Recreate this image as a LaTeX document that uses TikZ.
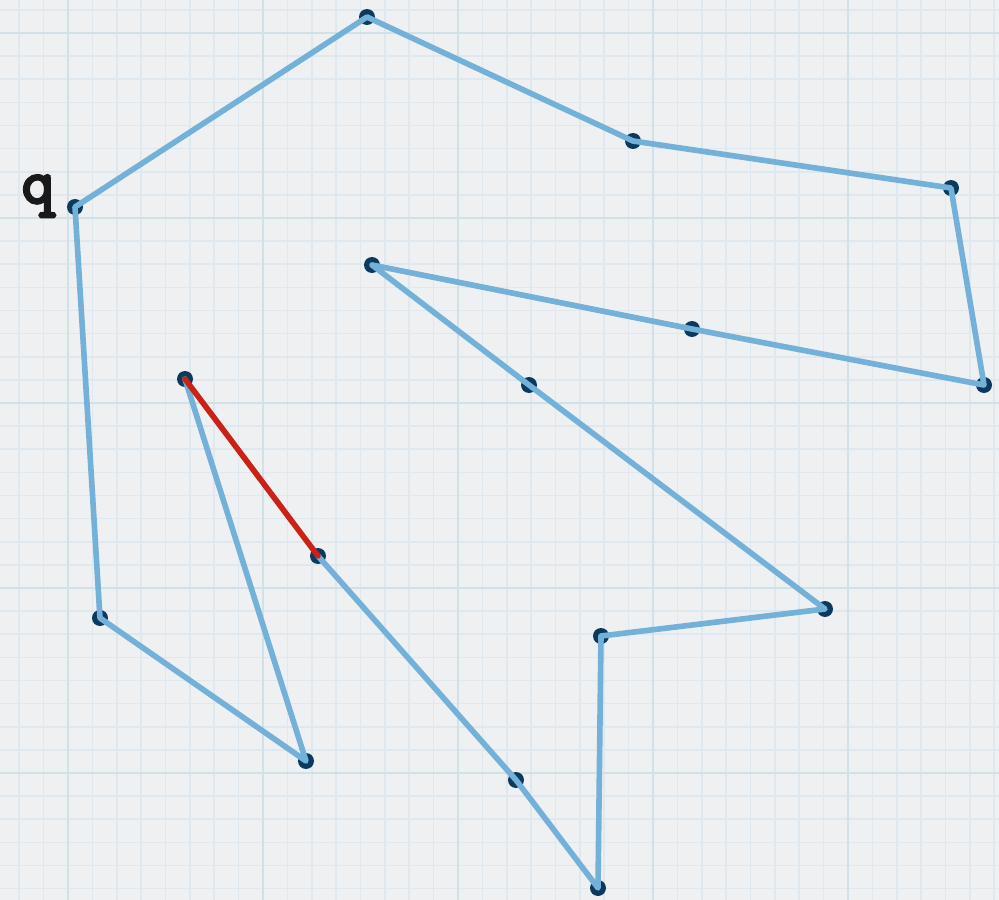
\documentclass[tikz,border=0pt]{standalone}
\usepackage{fontspec}
\newfontfamily\qfont{Latin Modern Mono}[FakeBold=4.5]
\definecolor{paper}{HTML}{EEF0F2}
\definecolor{gridminor}{HTML}{DEE8EE}
\definecolor{gridmajor}{HTML}{D0E2E8}
\definecolor{edgeblue}{HTML}{74B1D8}
\definecolor{dotnavy}{HTML}{0B3A5D}
\definecolor{edgered}{HTML}{CC2216}
\tikzset{
  minor/.style={gridminor, line width=0.45pt},
  major/.style={gridmajor, line width=0.75pt},
  edge/.style={edgeblue, line width=1.6pt, line cap=round, line join=round},
  hot/.style={edgered, line width=1.6pt, line cap=round},
  vertex/.style={fill=dotnavy},
}
\begin{document}
\begin{tikzpicture}[x=0.01cm, y=-0.01cm]
  \fill[paper] (0,0) rectangle (999,900);
  \useasboundingbox (0,0) rectangle (999,900);
  \begin{scope}
    \clip (0,0) rectangle (999,900);
    % graph paper
    \foreach \i in {-2,...,38}
      \draw[minor] ({68+24.375*\i},0) -- ({68+24.375*\i},900);
    \foreach \j in {-1,...,37}
      \draw[minor] (0,{33+23.125*\j}) -- (999,{33+23.125*\j});
    \foreach \i in {0,8,...,32}
      \draw[major] ({68+24.375*\i},0) -- ({68+24.375*\i},900);
    \foreach \j in {0,8,...,32}
      \draw[major] (0,{33+23.125*\j}) -- (999,{33+23.125*\j});
  \end{scope}

  % polygon vertices
  \coordinate (q) at (75,207);
  \coordinate (p1) at (367,17);
  \coordinate (p2) at (633,141);
  \coordinate (p3) at (951,188);
  \coordinate (p4) at (984,385);
  \coordinate (p5) at (692,329);
  \coordinate (p6) at (372,265);
  \coordinate (p7) at (529,385);
  \coordinate (p8) at (825,609);
  \coordinate (p9) at (601,636);
  \coordinate (p10) at (598,888);
  \coordinate (p11) at (516,780);
  \coordinate (p12) at (318,556);
  \coordinate (p13) at (185,379);
  \coordinate (p14) at (306,761);
  \coordinate (p15) at (100,618);

  \foreach \v in {q,p1,p2,p3,p4,p5,p6,p7,p8,p9,p10,p11,p12,p13,p14,p15}
    \fill[vertex] (\v) circle (8);

  \draw[edge] (p12) -- (p11) -- (p10) -- (p9) -- (p8) -- (p7) -- (p6)
    -- (p5) -- (p4) -- (p3) -- (p2) -- (p1) -- (q) -- (p15) -- (p14) -- (p13);
  \draw[hot] (p13) -- (p12);

  \node[anchor=base, text=black!90, font=\fontsize{18}{18}\selectfont\qfont]
    (qlabel) at (38,203) {q};
\end{tikzpicture}
\end{document}
